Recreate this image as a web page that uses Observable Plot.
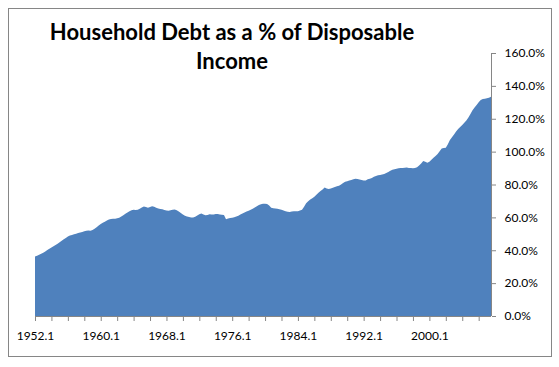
<!DOCTYPE html>
<html><head><meta charset="utf-8">
<script src="https://cdn.jsdelivr.net/npm/d3@7"></script>
<script src="https://cdn.jsdelivr.net/npm/@observablehq/plot@0.6"></script>
<style>
body{margin:0;background:#fff;}
#wrap{position:relative;width:559px;height:367px;}
#frame{position:absolute;left:8px;top:8px;width:542px;height:347px;border:1px solid #868686;pointer-events:none;}
#title{position:absolute;left:0;width:464px;top:17px;text-align:center;font-family:Lato;font-weight:bold;font-size:22px;line-height:29px;color:#000;}
#wrap svg{position:absolute;left:0;top:0;}
</style></head>
<body><div id="wrap"><div id="frame"></div></div>
<script>
const titleLines = ["Household Debt as a % of Disposable", "Income"];
const startYear = 1952;
// Household debt as % of disposable income, quarterly 1952.1 .. 2007.3
const debtPct = [
  36.2, 36.6, 37.2, 37.8,
  38.5, 39.3, 40.1, 40.9,
  41.7, 42.5, 43.2, 44.0,
  44.9, 45.8, 46.7, 47.5,
  48.3, 48.9, 49.3, 49.7,
  50.1, 50.5, 50.8, 51.1,
  51.5, 51.9, 52.0, 51.9,
  52.3, 53.1, 54.0, 55.0,
  55.9, 56.7, 57.4, 58.1,
  58.7, 59.0, 59.1, 59.2,
  59.4, 59.8, 60.5, 61.3,
  62.2, 63.0, 63.8, 64.3,
  64.6, 64.5, 64.7, 65.3,
  66.0, 66.6, 66.3, 65.9,
  66.3, 66.7, 66.4, 65.9,
  65.4, 65.1, 64.9, 64.5,
  64.2, 64.0, 64.3, 64.6,
  64.8, 64.4, 63.5, 62.6,
  61.7, 61.0, 60.6, 60.3,
  60.0, 59.9, 60.4, 61.2,
  61.9, 62.3, 61.8, 61.3,
  61.5, 61.9, 61.7, 61.8,
  62.1, 62.0, 61.8, 61.6,
  61.5, 58.9, 59.3, 59.6,
  59.8, 60.1, 60.5, 61.0,
  61.8, 62.4, 63.0, 63.6,
  64.1, 64.6, 65.3, 66.0,
  66.8, 67.5, 68.0, 68.3,
  68.3, 68.2, 67.2, 65.9,
  65.6, 65.4, 65.2, 65.0,
  64.7, 64.2, 63.7, 63.4,
  63.3, 63.6, 63.8, 63.7,
  63.8, 64.2, 64.6, 66.5,
  68.6, 69.8, 70.9, 71.7,
  72.6, 73.8, 75.0, 76.1,
  77.0, 78.1, 77.6, 77.3,
  77.6, 78.0, 78.5, 78.9,
  79.3, 80.0, 80.9, 81.6,
  82.0, 82.4, 82.8, 83.2,
  83.5, 83.4, 83.0, 82.7,
  82.4, 82.5, 83.2, 83.5,
  84.0, 84.7, 85.2, 85.6,
  85.8, 86.1, 86.4, 87.0,
  87.6, 88.4, 88.9, 89.3,
  89.6, 89.9, 90.0, 90.1,
  90.2, 90.3, 90.1, 90.0,
  89.9, 90.1, 90.5, 91.6,
  92.8, 94.3, 93.8, 93.3,
  93.9, 95.0, 96.2, 97.3,
  98.6, 100.3, 101.9, 102.2,
  102.4, 104.5, 107.0, 108.8,
  110.4, 112.3, 113.8, 115.0,
  116.2, 117.5, 118.9, 120.7,
  122.9, 125.1, 126.9, 128.4,
  130.0, 131.4, 132.0, 132.2,
  132.5, 132.8, 133.4
];
const xTickLabels = ["1952.1", "1960.1", "1968.1", "1976.1", "1984.1", "1992.1", "2000.1"];
const yTicks = [0, 20, 40, 60, 80, 100, 120, 140, 160];

const rows = debtPct.map((v, i) => ({i, v}));
const lastIdx = debtPct.length - 1;
const labelIdx = xTickLabels.map(s => (+s.split(".")[0] - startYear) * 4 + (+s.split(".")[1] - 1));
const labelMap = new Map(labelIdx.map((k, j) => [k, xTickLabels[j]]));
const minorIdx = d3.range(0, debtPct.length, 8);
const grey = "#868686";

const chart = Plot.plot({
  width: 559, height: 367,
  marginLeft: 35, marginRight: 68, marginTop: 53, marginBottom: 51,
  style: {fontFamily: "Lato", fontSize: "12px", color: "#000", background: "transparent"},
  x: {domain: [0, lastIdx], label: null},
  y: {domain: [0, 160], label: null},
  marks: [
    Plot.areaY(rows, {x: "i", y: "v", fill: "#4F81BD"}),
    Plot.ruleY([0], {stroke: grey}),
    Plot.ruleX([lastIdx], {stroke: grey}),
    Plot.axisX({ticks: minorIdx, tickSize: 5, tickFormat: () => "", stroke: grey, label: null}),
    Plot.axisX({ticks: labelIdx, tickSize: 0, tickPadding: 15, tickFormat: i => labelMap.get(i), fill: "#000", label: null}),
    Plot.axisY({anchor: "right", ticks: yTicks, tickSize: 4, tickPadding: 9, tickFormat: d => d.toFixed(1) + "%", stroke: grey, fill: "#000", label: null})
  ]
});
const wrap = document.getElementById("wrap");
wrap.prepend(chart);
const t = document.createElement("div");
t.id = "title";
titleLines.forEach((line, k) => {
  const s = document.createElement("div");
  s.textContent = line;
  t.appendChild(s);
});
wrap.appendChild(t);
</script>
</body></html>
